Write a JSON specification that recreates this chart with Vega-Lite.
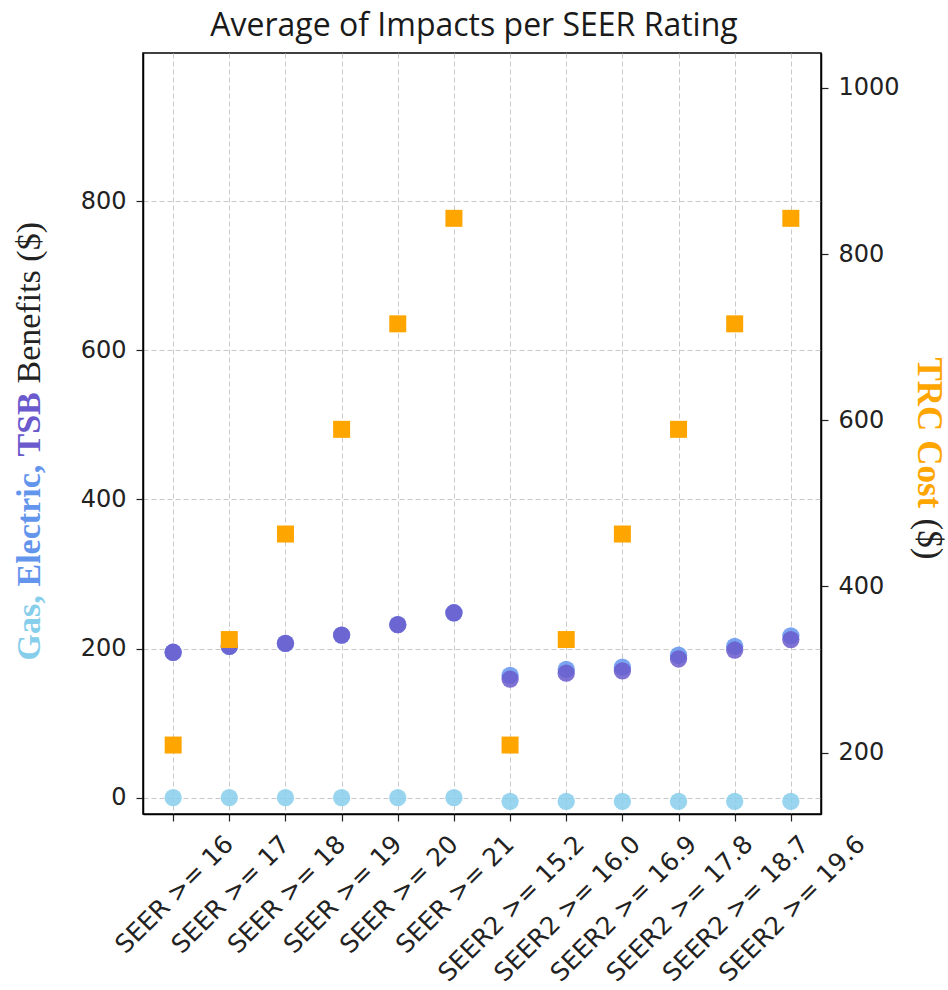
{
  "$schema": "https://vega.github.io/schema/vega-lite/v6.json",
  "width": 678,
  "height": 761,
  "autosize": {"type": "none"},
  "padding": {"left": 143, "top": 53, "right": 127, "bottom": 176},
  "background": "white",
  "title": {"text": "Average of Impacts per SEER Rating", "font": "Open Sans", "fontSize": 32, "fontWeight": "normal", "color": "#1a1a1a", "anchor": "middle", "frame": "group", "baseline": "alphabetic", "offset": 20, "dx": -8, "dy": 35},
  "config": {
    "view": {"stroke": "#000", "strokeWidth": 1.5},
    "axis": {
      "labelFont": "DejaVu Sans", "labelFontSize": 24, "labelColor": "#222",
      "tickColor": "#222", "tickSize": 7, "tickWidth": 1.2,
      "domainColor": "#000", "domainWidth": 1.5,
      "gridColor": "#c8c8c8", "gridDash": [5, 3], "gridWidth": 1,
      "labelPadding": 10
    }
  },
  "data": {"values": [
    {"rating": "SEER >= 16", "gas": 0, "electric": 195, "tsb": 195, "trc": 209},
    {"rating": "SEER >= 17", "gas": 0, "electric": 203, "tsb": 203, "trc": 336},
    {"rating": "SEER >= 18", "gas": 0, "electric": 207, "tsb": 207, "trc": 463},
    {"rating": "SEER >= 19", "gas": 0, "electric": 218, "tsb": 218, "trc": 589},
    {"rating": "SEER >= 20", "gas": 0, "electric": 232, "tsb": 232, "trc": 716},
    {"rating": "SEER >= 21", "gas": 0, "electric": 248, "tsb": 248, "trc": 843},
    {"rating": "SEER2 >= 15.2", "gas": -5, "electric": 164, "tsb": 159, "trc": 209},
    {"rating": "SEER2 >= 16.0", "gas": -5, "electric": 172, "tsb": 167, "trc": 336},
    {"rating": "SEER2 >= 16.9", "gas": -5, "electric": 175, "tsb": 170, "trc": 463},
    {"rating": "SEER2 >= 17.8", "gas": -5, "electric": 191, "tsb": 186, "trc": 589},
    {"rating": "SEER2 >= 18.7", "gas": -5, "electric": 203, "tsb": 198, "trc": 716},
    {"rating": "SEER2 >= 19.6", "gas": -5, "electric": 217, "tsb": 212, "trc": 843}
  ]},
  "encoding": {
    "x": {"field": "rating", "type": "nominal", "sort": null,
      "scale": {"type": "point", "padding": 0.537},
      "axis": {"title": null, "grid": true, "labelAngle": -45, "labelAlign": "right", "labelBaseline": "top",
        "labelFontSize": 25, "labelLimit": 0, "labelOverlap": false, "labelBound": false, "labelPadding": 10,
        "labelOffset": {"condition": {"test": "indexof(datum.label, 'SEER2') === 0", "value": 61}, "value": 47}}}
  },
  "layer": [
    {
      "mark": {"type": "circle", "size": 300, "opacity": 0.85, "color": "#87CEEB"},
      "encoding": {"y": {"field": "gas", "type": "quantitative",
        "scale": {"domain": [-22, 999], "nice": false, "zero": false},
        "axis": {"orient": "left", "values": [0, 200, 400, 600, 800], "grid": true,
          "title": "Gas,", "titleColor": "#87CEEB", "titleFont": "Liberation Serif", "titleFontWeight": "bold", "titleFontSize": 34,
          "titleAngle": -90, "titleAlign": "left", "titleBaseline": "middle", "titleX": -114, "titleY": 607}}}
    },
    {
      "mark": {"type": "circle", "size": 300, "opacity": 0.85, "color": "#6495ED"},
      "encoding": {"y": {"field": "electric", "type": "quantitative",
        "scale": {"domain": [-22, 999], "nice": false, "zero": false},
        "axis": {"orient": "left", "labels": false, "ticks": false, "domain": false, "grid": false,
          "title": "Electric,", "titleColor": "#6495ED", "titleFont": "Liberation Serif", "titleFontWeight": "bold", "titleFontSize": 34,
          "titleAngle": -90, "titleAlign": "left", "titleBaseline": "middle", "titleX": -114, "titleY": 533}}}
    },
    {
      "mark": {"type": "circle", "size": 300, "opacity": 0.85, "color": "#6A5ACD"},
      "encoding": {"y": {"field": "tsb", "type": "quantitative",
        "scale": {"domain": [-22, 999], "nice": false, "zero": false},
        "axis": {"orient": "left", "labels": false, "ticks": false, "domain": false, "grid": false,
          "title": "TSB", "titleColor": "#6A5ACD", "titleFont": "Liberation Serif", "titleFontWeight": "bold", "titleFontSize": 34,
          "titleAngle": -90, "titleAlign": "left", "titleBaseline": "middle", "titleX": -114, "titleY": 403}}}
    },
    {
      "mark": {"type": "circle", "size": 300, "opacity": 0},
      "encoding": {"y": {"field": "tsb", "type": "quantitative",
        "scale": {"domain": [-22, 999], "nice": false, "zero": false},
        "axis": {"orient": "left", "labels": false, "ticks": false, "domain": false, "grid": false,
          "title": "Benefits ($)", "titleColor": "#222", "titleFont": "Liberation Serif", "titleFontWeight": "normal", "titleFontSize": 34,
          "titleAngle": -90, "titleAlign": "left", "titleBaseline": "middle", "titleX": -114, "titleY": 330}}}
    },
    {
      "mark": {"type": "square", "size": 289, "opacity": 1, "color": "#FFA500", "filled": true},
      "encoding": {"y": {"field": "trc", "type": "quantitative",
        "scale": {"domain": [126, 1042], "nice": false, "zero": false},
        "axis": {"orient": "right", "values": [200, 400, 600, 800, 1000], "format": "d", "grid": false,
          "title": "TRC Cost", "titleColor": "#FFA500", "titleFont": "Liberation Serif", "titleFontWeight": "bold", "titleFontSize": 35,
          "titleAngle": 90, "titleAlign": "left", "titleBaseline": "middle", "titleX": 107, "titleY": 304}}}
    },
    {
      "mark": {"type": "square", "size": 289, "opacity": 0},
      "encoding": {"y": {"field": "trc", "type": "quantitative",
        "scale": {"domain": [126, 1042], "nice": false, "zero": false},
        "axis": {"orient": "right", "labels": false, "ticks": false, "domain": false, "grid": false,
          "title": "($)", "titleColor": "#222", "titleFont": "Liberation Serif", "titleFontWeight": "normal", "titleFontSize": 35,
          "titleAngle": 90, "titleAlign": "left", "titleBaseline": "middle", "titleX": 107, "titleY": 465}}}
    }
  ],
  "resolve": {"scale": {"y": "independent"}}
}
